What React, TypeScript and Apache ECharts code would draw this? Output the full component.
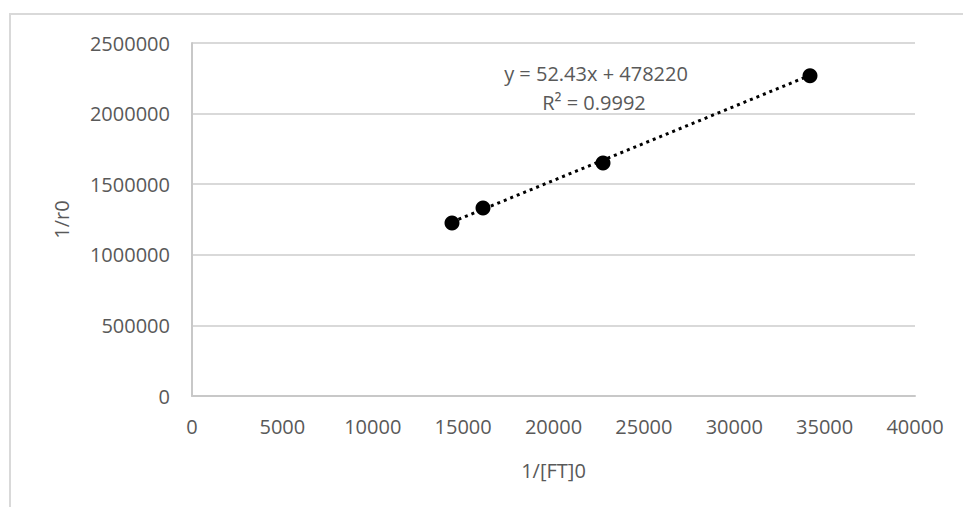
import React, { useEffect, useRef } from "react";
import * as echarts from "echarts";

const xValues = [14384, 16100, 22739, 34191];
const yValues = [1225000, 1331000, 1650000, 2268000];
const trendSlope = 52.43;
const trendIntercept = 478220;
const equationText = "y = 52.43x + 478220";
const r2Text = "R² = 0.9992";
const xAxisTitle = "1/[FT]0";
const yAxisTitle = "1/r0";

const FONT = "'Open Sans', 'Noto Sans', sans-serif";
const GRAY = "#595959";

export default function App() {
  const ref = useRef<HTMLDivElement>(null);
  useEffect(() => {
    if (!ref.current) return;
    const chart = echarts.init(ref.current, null, { renderer: "svg" });
    const xMin = Math.min(...xValues);
    const xMax = Math.max(...xValues);
    const trend = [
      [xMin, trendSlope * xMin + trendIntercept],
      [xMax, trendSlope * xMax + trendIntercept],
    ];
    chart.setOption({
      animation: false,
      backgroundColor: "#ffffff",
      textStyle: { fontFamily: FONT },
      grid: { left: 192, right: 48, top: 43, bottom: 111, containLabel: false },
      graphic: [
        {
          type: "rect",
          shape: { x: 10, y: 14, width: 980, height: 520 },
          style: { fill: "none", stroke: "#d9d9d9", lineWidth: 2 },
          silent: true,
          z: -1,
        },
        {
          type: "text",
          x: 596,
          y: 73,
          style: {
            text: equationText,
            fill: GRAY,
            font: `20px ${FONT}`,
            align: "center",
            verticalAlign: "middle",
          },
        },
        {
          type: "text",
          x: 594,
          y: 102,
          style: {
            text: r2Text,
            fill: GRAY,
            font: `20px ${FONT}`,
            align: "center",
            verticalAlign: "middle",
          },
        },
      ],
      xAxis: {
        type: "value",
        min: 0,
        max: 40000,
        interval: 5000,
        name: xAxisTitle,
        nameLocation: "middle",
        nameGap: 64,
        nameTextStyle: { color: GRAY, fontSize: 20, fontFamily: FONT },
        axisLine: { show: true, lineStyle: { color: "#c8c8c8", width: 2 } },
        axisTick: { show: false },
        axisLabel: {
          color: GRAY,
          fontSize: 20,
          fontFamily: FONT,
          margin: 20,
          formatter: (v: number) => String(v),
        },
        splitLine: { show: false },
      },
      yAxis: {
        type: "value",
        min: 0,
        max: 2500000,
        interval: 500000,
        name: yAxisTitle,
        nameLocation: "middle",
        nameGap: 121,
        nameRotate: 90,
        nameTextStyle: { color: GRAY, fontSize: 20, fontFamily: FONT },
        axisLine: { show: true, lineStyle: { color: "#c8c8c8", width: 2 } },
        axisTick: { show: false },
        axisLabel: {
          color: GRAY,
          fontSize: 20,
          fontFamily: FONT,
          margin: 22,
          formatter: (v: number) => String(v),
        },
        splitLine: { show: true, lineStyle: { color: "#d9d9d9", width: 2 } },
      },
      series: [
        {
          type: "line",
          data: trend,
          symbol: "none",
          lineStyle: { color: "#000000", width: 3, type: [3, 4] },
          z: 2,
        },
        {
          type: "scatter",
          data: xValues.map((x, i) => [x, yValues[i]]),
          symbol: "circle",
          symbolSize: 15,
          itemStyle: { color: "#000000", opacity: 1 },
          z: 3,
        },
      ],
    });
    return () => chart.dispose();
  }, []);
  return (
    <div
      ref={ref}
      style={{ position: "fixed", left: 0, top: 0, width: 963, height: 507 }}
    />
  );
}
